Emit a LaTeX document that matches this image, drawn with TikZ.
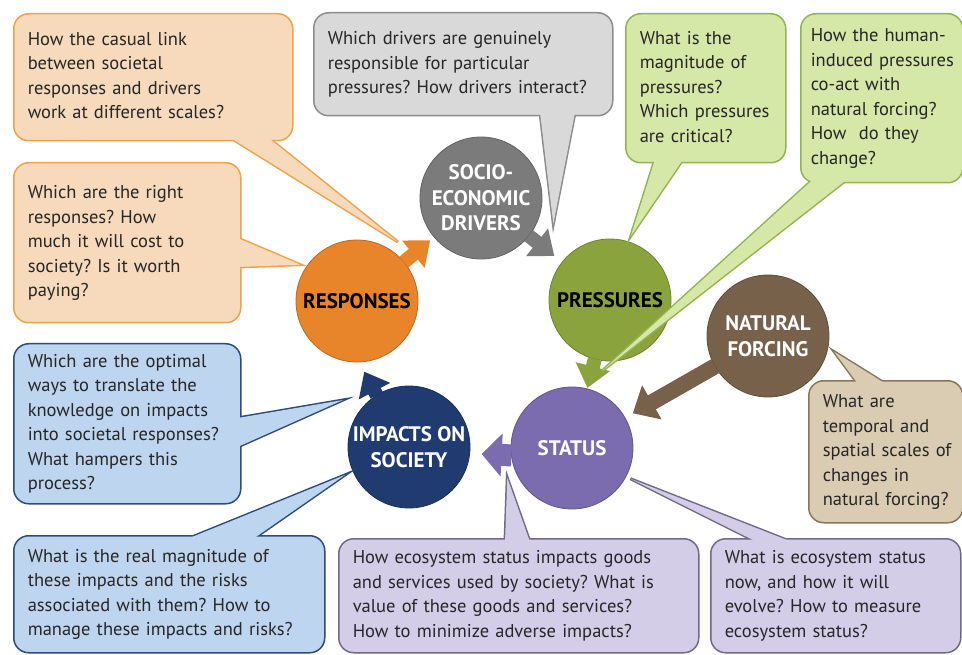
\documentclass[tikz,border=0pt]{standalone}
\usepackage{fontspec}
\setmainfont{PT Sans}
\usetikzlibrary{arrows.meta}
\frenchspacing

\pgfdeclarelayer{back}
\pgfdeclarelayer{mid}
\pgfdeclarelayer{front}
\pgfsetlayers{back,mid,main,front}

\definecolor{orgdisc}{HTML}{E8842A}
\definecolor{orgfill}{HTML}{F6DABB}
\definecolor{orgline}{HTML}{F0A24A}
\definecolor{grydisc}{HTML}{7B7B7B}
\definecolor{gryfill}{HTML}{D9D9D9}
\definecolor{gryline}{HTML}{8C8C8C}
\definecolor{grndisc}{HTML}{8AA33C}
\definecolor{grnfill}{HTML}{D5E8A8}
\definecolor{grnline}{HTML}{93B350}
\definecolor{brndisc}{HTML}{77614A}
\definecolor{brnfill}{HTML}{D9CCB3}
\definecolor{brnline}{HTML}{8A7558}
\definecolor{purdisc}{HTML}{7A6CAE}
\definecolor{purfill}{HTML}{D4CDE8}
\definecolor{purline}{HTML}{6F6A88}
\definecolor{navdisc}{HTML}{1F3B70}
\definecolor{navfill}{HTML}{BED5EF}
\definecolor{navline}{HTML}{2E4B7E}
\definecolor{ink}{HTML}{262626}

\newcommand{\qlines}[1]{\begin{tabular}{@{}l@{}}#1\end{tabular}}
\newcommand{\bubbletail}[4]{%
  \begin{pgfonlayer}{mid}
    \filldraw[fill=#1fill, draw=#1line, line width=3pt] #2 -- #3 -- #4 -- cycle;
  \end{pgfonlayer}
  \begin{pgfonlayer}{front}
    \fill[#1fill] #2 -- #3 -- #4 -- cycle;
  \end{pgfonlayer}}

\begin{document}
\begin{tikzpicture}[x=1pt, y=-1pt,
  hub/.style={circle, minimum size=122pt, inner sep=0pt, outer sep=0pt,
    fill=#1disc, draw=#1disc!80!black, line width=0.8pt, align=center,
    font=\fontsize{21}{25.5}\selectfont\bfseries},
  ask/.style={rectangle, rounded corners=15pt, anchor=north west,
    inner xsep=14pt, inner ysep=0pt, align=left, fill=#1fill, draw=#1line,
    line width=1.5pt, text=ink, font=\fontsize{18.5}{24.5}\selectfont},
  flow/.style={line width=14pt, -{Triangle[length=22pt, width=34pt]}, draw=#1disc}]

\useasboundingbox (0,0) rectangle (962,655);

\begin{pgfonlayer}{back}
\node[hub=org] (resp) at (357,301) {RESPONSES};
\node[hub=gry, text=white] (drv) at (481,198) {SOCIO-\\ECONOMIC\\DRIVERS};
\node[hub=grn] (pres) at (610,300) {PRESSURES};
\node[hub=brn, text=white] (nat) at (768,336) {NATURAL\\FORCING};
\node[hub=pur, text=white] (stat) at (572,448) {STATUS};
\node[hub=nav, text=white] (imp) at (409,447) {IMPACTS ON\\SOCIETY};

\draw[flow=org, shorten >=5pt] (resp) -- (drv);
\draw[flow=gry, shorten >=10pt] (drv) -- (pres);
\draw[flow=grn, shorten >=1pt] (pres) -- (stat);
\draw[flow=brn, line width=16pt, -{Triangle[length=22pt, width=38pt]}, shorten >=9pt] (nat) -- (stat);
\draw[flow=pur, line width=22pt, -{Triangle[length=20pt, width=42pt]}, shorten >=12pt] (stat.187) -- (imp.354);
\draw[flow=nav, shorten >=11pt] (imp.122) -- (resp.272);
\end{pgfonlayer}

\node[ask=org, minimum width=279pt, minimum height=127pt, text width=251pt] (q1) at (13,13)
  {\qlines{How the casual link\\between societal\\responses and drivers\\work at different scales?}};
\node[ask=org, minimum width=227pt, minimum height=160pt, text width=199pt] (q2) at (13,162)
  {\qlines{Which are the right\\responses? How\\much it will cost to\\society? Is it worth\\paying?}};
\node[ask=gry, minimum width=299pt, minimum height=103pt, text width=271pt] (q3) at (313,12)
  {\qlines{Which drivers are genuinely\\responsible for particular\\pressures? How drivers interact?}};
\node[ask=grn, minimum width=160pt, minimum height=149pt, text width=132pt] (q4) at (625,13)
  {\qlines{What is the\\magnitude of\\pressures?\\Which pressures\\are critical?}};
\node[ask=grn, minimum width=162pt, minimum height=169pt, text width=142pt, inner xsep=10pt] (q5) at (800,13)
  {\qlines{How the human-\\induced pressures\\co-act with\\natural forcing?\\How~ do they\\change?}};
\node[ask=brn, minimum width=154pt, minimum height=142pt, text width=126pt] (q6) at (808,380)
  {\qlines{What are\\temporal and\\spatial scales of\\changes in\\natural forcing?}};
\node[ask=nav, minimum width=227pt, minimum height=160pt, text width=199pt] (q7) at (13,343)
  {\qlines{Which are the optimal\\ways to translate the\\knowledge on impacts\\into societal responses?\\What hampers this\\process?}};
\node[ask=nav, minimum width=311pt, minimum height=117pt, text width=283pt] (q8) at (13,535)
  {\qlines{What is the real magnitude of\\these impacts and the risks\\associated with them? How to\\manage these impacts and risks?}};
\node[ask=pur, minimum width=360pt, minimum height=114pt, text width=332pt] (q9) at (338,538)
  {\qlines{How ecosystem status impacts goods\\and services used by society? What is\\value of these goods and services?\\How to minimize adverse impacts?}};
\node[ask=pur, minimum width=250pt, minimum height=114pt, text width=222pt] (q10) at (710,538)
  {\qlines{What is ecosystem status\\now, and how it will\\evolve? How to measure\\ecosystem status?}};

\bubbletail{org}{([xshift=217pt,yshift=4pt]q1.south west)}{([xshift=6pt,yshift=9pt]resp.55)}{([xshift=255pt,yshift=4pt]q1.south west)}
\bubbletail{org}{([xshift=-4pt,yshift=-76pt]q2.north east)}{([xshift=-5pt,yshift=4pt]resp.148)}{([xshift=-4pt,yshift=-105pt]q2.north east)}
\bubbletail{gry}{([xshift=227pt,yshift=4pt]q3.south west)}{([xshift=15pt,yshift=-5pt]drv.-20)}{([xshift=262pt,yshift=4pt]q3.south west)}
\bubbletail{grn}{([xshift=30pt,yshift=4pt]q4.south west)}{([xshift=2pt,yshift=6pt]pres.72)}{([xshift=58pt,yshift=4pt]q4.south west)}
\bubbletail{grn}{([xshift=13pt,yshift=4pt]q5.south west)}{([yshift=-10pt]pres.263)}{([xshift=47pt,yshift=4pt]q5.south west)}
\bubbletail{brn}{([xshift=50pt,yshift=-4pt]q6.north west)}{([xshift=7pt,yshift=-1pt]nat.-14)}{([xshift=78pt,yshift=-4pt]q6.north west)}
\bubbletail{nav}{([xshift=-4pt,yshift=-75pt]q7.north east)}{([xshift=-16pt,yshift=12pt]imp.145)}{([xshift=-4pt,yshift=-104pt]q7.north east)}
\bubbletail{nav}{([xshift=174pt,yshift=-4pt]q8.north west)}{([xshift=-8pt,yshift=-3pt]imp.204)}{([xshift=240pt,yshift=-4pt]q8.north west)}
\bubbletail{pur}{([xshift=167pt,yshift=-4pt]q9.north west)}{([xshift=-9pt,yshift=-5pt]stat.204)}{([xshift=192pt,yshift=-4pt]q9.north west)}
\bubbletail{pur}{([xshift=47pt,yshift=-4pt]q10.north west)}{([xshift=4pt,yshift=-3pt]stat.-27)}{([xshift=82pt,yshift=-4pt]q10.north west)}
\end{tikzpicture}
\end{document}
